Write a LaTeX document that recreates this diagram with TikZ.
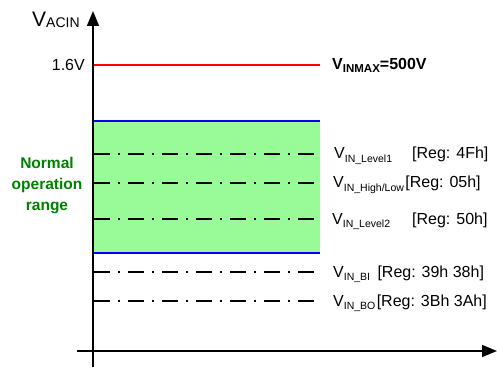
\documentclass[tikz,border=0pt]{standalone}
\usepackage{fontspec}
\setmainfont{Liberation Sans}
\usetikzlibrary{arrows.meta,positioning}
\definecolor{rangegreen}{RGB}{152,251,152}
\definecolor{textgreen}{RGB}{0,128,0}
\newcommand\Vsub[1]{V\raisebox{-0.22em}{\fontsize{10.5}{10.5}\selectfont #1}}

\begin{document}
\begin{tikzpicture}[x=1pt,y=1pt,>={Triangle[length=15pt,width=12pt]},font=\fontsize{16}{16}\selectfont,
  axis/.style={->,line width=1.6pt},
  limit/.style={line width=1.6pt},
  level/.style={line width=1.8pt,dash pattern=on 16pt off 8pt on 2pt off 8pt},
  lbl/.style={anchor=base west,inner sep=0pt}]
\useasboundingbox (0,0) rectangle (497,367);
% normal operation band
\fill[rangegreen] (93,114) rectangle (320,246);
\draw[limit,blue] (93,246) -- (320,246);
\draw[limit,blue] (93,114) -- (320,114);
\draw[limit,red] (93,302) -- (320,302);
% threshold levels
\foreach \y in {213,184,148,95,66}
  \draw[level] (94,\y) -- (320,\y);
% axes
\coordinate (ybot) at (93,0);
\coordinate (ytop) at (93,356);
\coordinate (xleft) at (77,16);
\coordinate (xright) at (497,16);
\draw[axis] (ybot) -- (ytop);
\draw[axis] (xleft) -- (xright);
% labels
\node[lbl] (vacin) at (32,340) {\fontsize{21}{21}\selectfont V\raisebox{-1pt}{\fontsize{14}{14}\selectfont ACIN}};
\node[anchor=base east,inner sep=0pt] (vmaxval) at (85,296) {1.6V};
\node[lbl,font=\bfseries\fontsize{16}{16}\selectfont] (vmax) at (332,297) {V\raisebox{-0.15em}{\fontsize{11.5}{11.5}\selectfont INMAX}=500V};
\node[align=center,text=textgreen,font=\bfseries\fontsize{15.5}{21}\selectfont] (range) at (47,181) {Normal\\operation\\range};
\node[lbl] (lvl1) at (334,208) {\Vsub{IN\_Level1}};
\node[lbl] (lvl1reg) at (412,208) {[Reg: 4Fh]};
\node[lbl] (hl) at (333,179) {\Vsub{IN\_High/Low}};
\node[lbl,right=1pt of hl.base east,anchor=base west] (hlreg) {[Reg: 05h]};
\node[lbl] (lvl2) at (332,143) {\Vsub{IN\_Level2}};
\node[lbl] (lvl2reg) at (412,143) {[Reg: 50h]};
\node[lbl] (bi) at (333,90) {\Vsub{IN\_BI}};
\node[lbl,right=7pt of bi.base east,anchor=base west] (bireg) {[Reg: 39h 38h]};
\node[lbl] (bo) at (333,61) {\Vsub{IN\_BO}};
\node[lbl,right=1pt of bo.base east,anchor=base west] (boreg) {[Reg: 3Bh 3Ah]};
\end{tikzpicture}
\end{document}
